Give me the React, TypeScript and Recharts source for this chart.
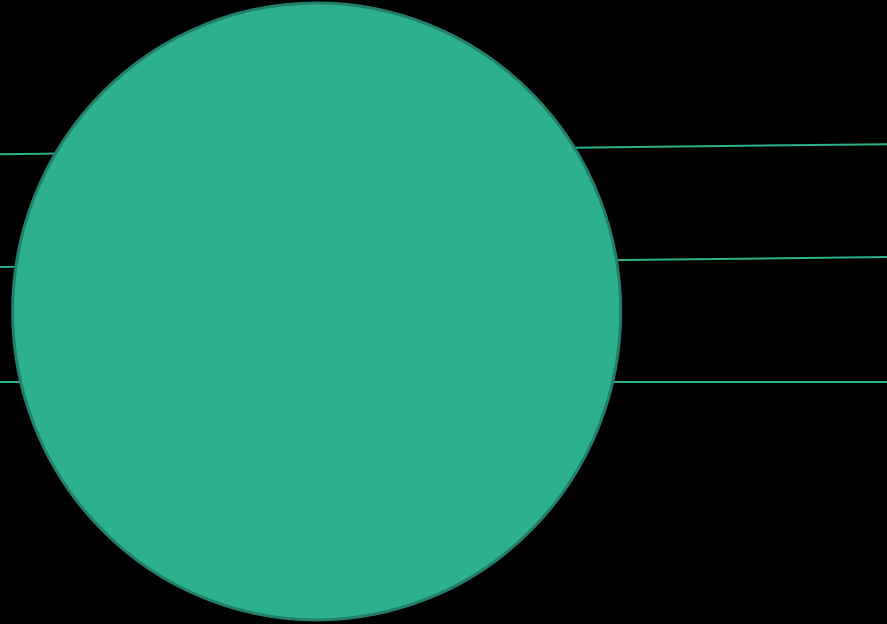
import React from "react";
import { ComposedChart, Line, Scatter, XAxis, YAxis } from "recharts";

const xEnds = [0, 100];
const line1Values = [75.3, 76.9];
const line2Values = [57.2, 58.8];
const line3Values = [38.8, 38.8];
const bubblePoint = [{ x: 35.7, y: 50.1 }];

const toSeries = (vals: number[]) => xEnds.map((x, i) => ({ x, y: vals[i] }));
const line1 = toSeries(line1Values);
const line2 = toSeries(line2Values);
const line3 = toSeries(line3Values);

const Bubble = (props: any) => (
  <ellipse
    cx={props.cx}
    cy={props.cy}
    rx={304}
    ry={308.5}
    fill="#2db08e"
    stroke="#22806a"
    strokeWidth={3}
  />
);

const NoDot = () => <g />;

export default function App() {
  return (
    <div style={{ position: "fixed", left: 0, top: 0, width: 887, height: 624, background: "#000" }}>
      <ComposedChart width={887} height={624} margin={{ top: 0, right: 0, bottom: 0, left: 0 }}>
        <XAxis type="number" dataKey="x" domain={[0, 100]} hide />
        <YAxis type="number" dataKey="y" domain={[0, 100]} hide />
        <Line data={line1} dataKey="y" stroke="#2db08e" strokeWidth={2} dot={NoDot} activeDot={false} isAnimationActive={false} />
        <Line data={line2} dataKey="y" stroke="#2db08e" strokeWidth={2} dot={NoDot} activeDot={false} isAnimationActive={false} />
        <Line data={line3} dataKey="y" stroke="#2db08e" strokeWidth={2} dot={NoDot} activeDot={false} isAnimationActive={false} />
        <Scatter data={bubblePoint} dataKey="y" shape={Bubble} isAnimationActive={false} />
      </ComposedChart>
    </div>
  );
}
